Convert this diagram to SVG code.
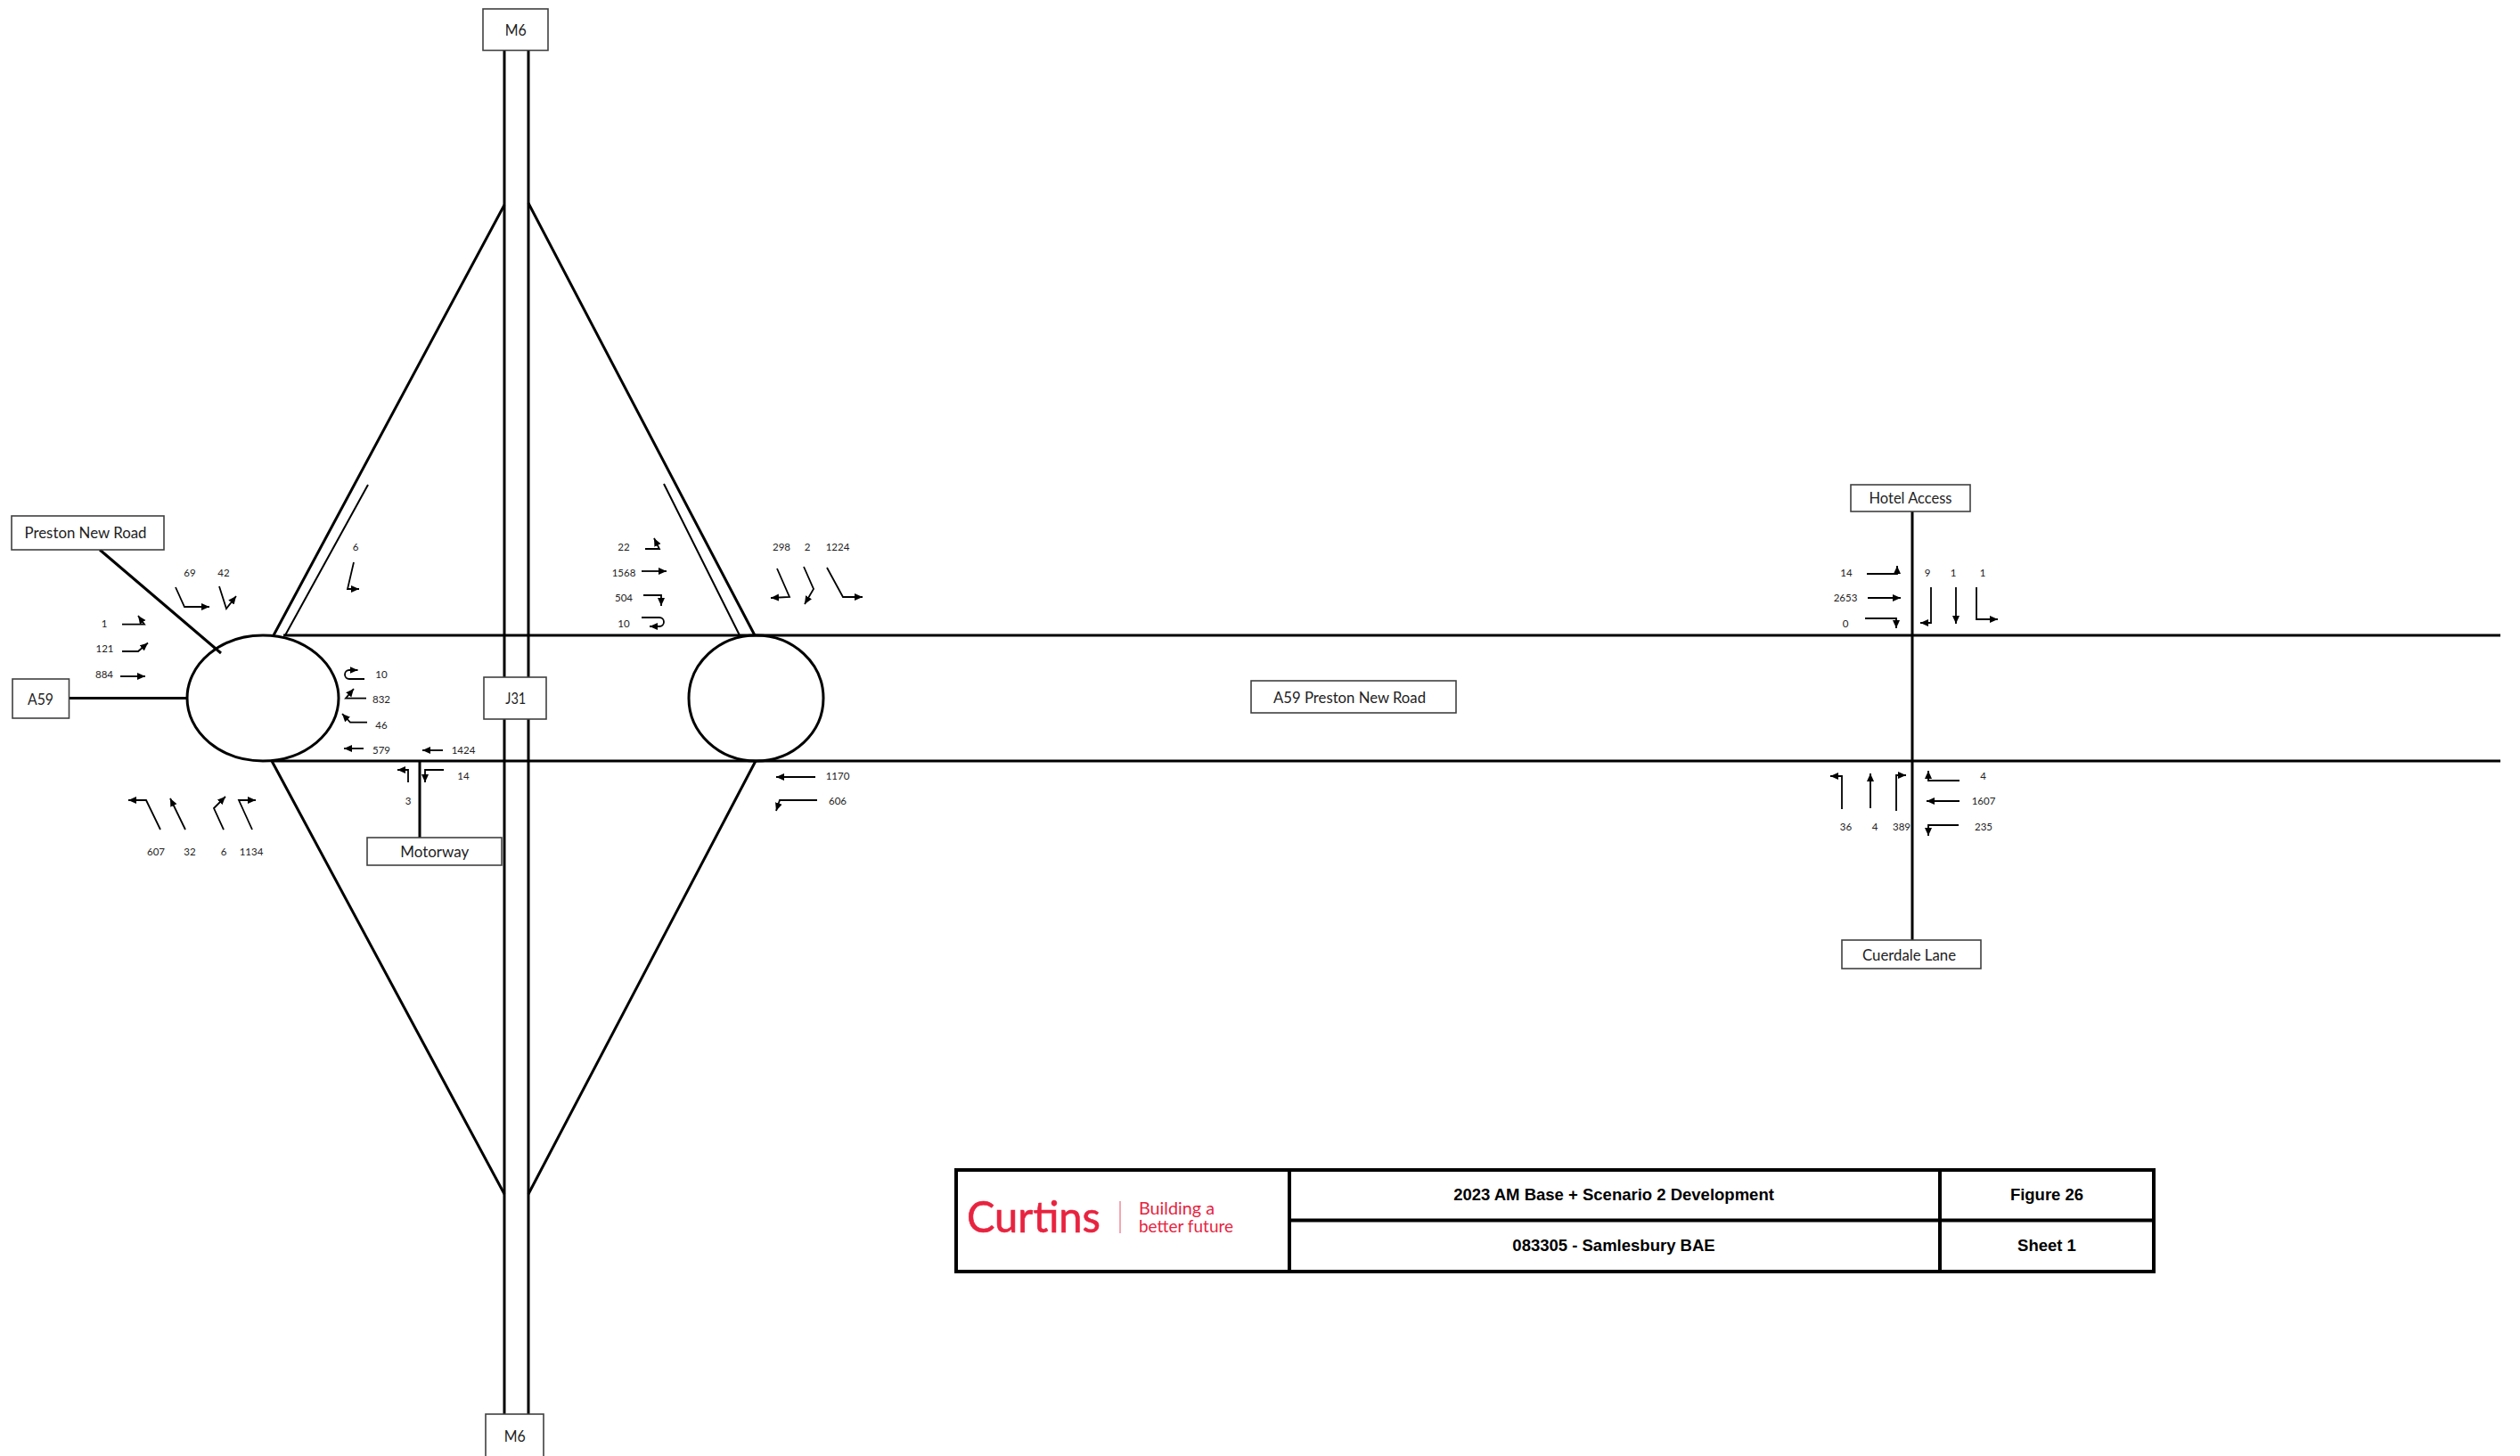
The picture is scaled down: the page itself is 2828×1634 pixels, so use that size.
<svg xmlns="http://www.w3.org/2000/svg" width="2828" height="1634" viewBox="0 0 2828 1634">
<style>
.road{fill:none;stroke:#000;stroke-width:3}
.thin{fill:none;stroke:#000;stroke-width:2}
.rb{fill:none;stroke:#000;stroke-width:3}
.mv{fill:none;stroke:#000;stroke-width:1.8;marker-end:url(#ah)}
.box{fill:#fff;stroke:#404040;stroke-width:1.6}
.lb{font-family:Lato,"Liberation Sans",sans-serif;font-size:18px;fill:#222;text-anchor:middle;dominant-baseline:central}
.n{font-family:Lato,"Liberation Sans",sans-serif;font-size:11.5px;fill:#222;text-anchor:middle;dominant-baseline:central;transform:translateY(-1px)}
.tb{fill:#fff;stroke:#000;stroke-width:4}
.tt{font-family:"Liberation Sans",Arial,sans-serif;font-size:18.5px;font-weight:bold;fill:#000;text-anchor:middle;dominant-baseline:central}
.logo{font-family:Lato,"Liberation Sans",sans-serif;fill:#e8233f}
</style>
<defs>
<marker id="ah" markerUnits="userSpaceOnUse" markerWidth="10" markerHeight="9" refX="9" refY="4.500" orient="auto"><path d="M0 0.500L9 4.500L0 8.500Z" fill="#000"/></marker>
</defs>
<rect width="2828" height="1634" fill="#fff"/>
<g id="connectors">
<g id="roads">
<path class="road" d="M566 50V1590M593 50V1590"/>
<path class="road" d="M318 713H2806M305 854H2806"/>
<path class="road" d="M307 713L566 230M593 228L847 713M305 854L566 1340M848 854L593 1340"/>
<path class="thin" d="M320 713L413 544M745 543L830 713"/>
<path class="road" d="M112 617L248 733M77 783.5H210M471 854V940M2146 574V1057"/>
</g>
<g id="movements">
<path class="mv" d="M137 700.7H162L155 691"/>
<path class="mv" d="M137 731H155L166 721.5"/>
<path class="mv" d="M135 759H163"/>
<path class="mv" d="M197 659L207 681H235"/>
<path class="mv" d="M246 658L254 683L265 669"/>
<path class="mv" d="M397 631L390 661H403"/>
<path class="mv" d="M409 762H392A5 5 0 0 1 392 752H401.5"/>
<path class="mv" d="M411 783.7H388L397 773"/>
<path class="mv" d="M412 810.7H393L384 801"/>
<path class="mv" d="M408 840H386"/>
<path class="mv" d="M497 842H474"/>
<path class="mv" d="M498 864H477V878"/>
<path class="mv" d="M458 878V864H446"/>
<path class="mv" d="M180 931L164 898H144"/>
<path class="mv" d="M208 931L191 896"/>
<path class="mv" d="M251 931L240 907L253 894"/>
<path class="mv" d="M283 931L268 898H287"/>
<path class="mv" d="M724 616H740L734 604"/>
<path class="mv" d="M720 641H748"/>
<path class="mv" d="M722 668H742V680"/>
<path class="mv" d="M720 693H740A5 5 0 0 1 740 703H729"/>
<path class="mv" d="M872 638L886 670L865 671"/>
<path class="mv" d="M902 636L913 661L903 678"/>
<path class="mv" d="M928 637L946 670H968"/>
<path class="mv" d="M915 872H871"/>
<path class="mv" d="M917 898H875L871 910"/>
<path class="mv" d="M2095 644H2129V635"/>
<path class="mv" d="M2096 671H2133"/>
<path class="mv" d="M2093 694H2128V705"/>
<path class="mv" d="M2167 659V699H2155"/>
<path class="mv" d="M2195 659V700"/>
<path class="mv" d="M2218 659V695H2242"/>
<path class="mv" d="M2067 908V871H2054"/>
<path class="mv" d="M2099 907V868"/>
<path class="mv" d="M2128 910V870H2139"/>
<path class="mv" d="M2199 876H2164V865"/>
<path class="mv" d="M2199 899H2162"/>
<path class="mv" d="M2198 926H2164V938"/>
</g>
</g>
<g id="rb-west"><ellipse class="rb" cx="295" cy="783.5" rx="85" ry="70.5"/></g>
<g id="rb-east"><ellipse class="rb" cx="848.5" cy="783.5" rx="75.5" ry="70.5"/></g>
<g id="n-m6-top"><rect class="box" x="542" y="10" width="73" height="46.5"/><text class="lb" x="578.700" y="33" textLength="24" lengthAdjust="spacingAndGlyphs">M6</text></g>
<g id="n-m6-bottom"><rect class="box" x="545" y="1587" width="65" height="60"/><text class="lb" x="577.800" y="1611" textLength="24" lengthAdjust="spacingAndGlyphs">M6</text></g>
<g id="n-j31"><rect class="box" x="543" y="760" width="70" height="47"/><text class="lb" x="578.800" y="783" textLength="23" lengthAdjust="spacingAndGlyphs">J31</text></g>
<g id="n-preston"><rect class="box" x="13" y="579" width="171" height="38"/><text class="lb" x="96" y="597" textLength="137" lengthAdjust="spacingAndGlyphs">Preston New Road</text></g>
<g id="n-a59"><rect class="box" x="14" y="762" width="63.500" height="44"/><text class="lb" x="45.500" y="784" textLength="29" lengthAdjust="spacingAndGlyphs">A59</text></g>
<g id="n-motorway"><rect class="box" x="412" y="940" width="151" height="31"/><text class="lb" x="487.700" y="955" textLength="77" lengthAdjust="spacingAndGlyphs">Motorway</text></g>
<g id="n-a59-pnr"><rect class="box" x="1404" y="764" width="230" height="36"/><text class="lb" x="1514.500" y="782" textLength="171" lengthAdjust="spacingAndGlyphs">A59 Preston New Road</text></g>
<g id="n-hotel"><rect class="box" x="2077" y="544" width="134" height="30"/><text class="lb" x="2144" y="558" textLength="93" lengthAdjust="spacingAndGlyphs">Hotel Access</text></g>
<g id="n-cuerdale"><rect class="box" x="2067" y="1055" width="156" height="32"/><text class="lb" x="2142.500" y="1071" textLength="105" lengthAdjust="spacingAndGlyphs">Cuerdale Lane</text></g>
<g id="flows">
<text class="n" x="117" y="700">1</text><text class="n" x="117.500" y="728">121</text><text class="n" x="117" y="757">884</text>
<text class="n" x="213" y="643">69</text><text class="n" x="251" y="643">42</text><text class="n" x="399" y="614">6</text>
<text class="n" x="428" y="757">10</text><text class="n" x="428" y="785">832</text><text class="n" x="428" y="814">46</text><text class="n" x="428" y="842">579</text>
<text class="n" x="520" y="842">1424</text><text class="n" x="520" y="871">14</text><text class="n" x="458" y="899">3</text>
<text class="n" x="175" y="956">607</text><text class="n" x="213" y="956">32</text><text class="n" x="251" y="956">6</text><text class="n" x="282" y="956">1134</text>
<text class="n" x="700" y="614">22</text><text class="n" x="700" y="643">1568</text><text class="n" x="700" y="671">504</text><text class="n" x="700" y="700">10</text>
<text class="n" x="877" y="614">298</text><text class="n" x="906" y="614">2</text><text class="n" x="940" y="614">1224</text>
<text class="n" x="940" y="871">1170</text><text class="n" x="940" y="899">606</text>
<text class="n" x="2072" y="643">14</text><text class="n" x="2071" y="671">2653</text><text class="n" x="2071" y="700">0</text>
<text class="n" x="2163" y="643">9</text><text class="n" x="2192" y="643">1</text><text class="n" x="2225" y="643">1</text>
<text class="n" x="2071.500" y="928">36</text><text class="n" x="2104" y="928">4</text><text class="n" x="2134" y="928">389</text>
<text class="n" x="2225.500" y="871">4</text><text class="n" x="2226" y="899">1607</text><text class="n" x="2226" y="928">235</text>
</g>
<g id="titleblock">
<rect class="tb" x="1073" y="1313" width="1344" height="114"/>
<path class="tb" d="M1447 1313V1427M2177 1313V1427M1447 1369.500H2417"/>
<text class="logo" x="1085" y="1382.500" font-size="49" textLength="150" lengthAdjust="spacingAndGlyphs" stroke="#e8233f" stroke-width="0.600">Curtins</text>
<path d="M1257 1348V1384" stroke="#f08a9a" stroke-width="1.500" fill="none"/>
<text class="logo" x="1278" y="1363" font-size="20" textLength="85" lengthAdjust="spacingAndGlyphs">Building a</text>
<text class="logo" x="1278" y="1383" font-size="20" textLength="106" lengthAdjust="spacingAndGlyphs">better future</text>
<text class="tt" x="1811" y="1340">2023 AM Base + Scenario 2 Development</text>
<text class="tt" x="1811" y="1397">083305 - Samlesbury BAE</text>
<text class="tt" x="2297" y="1340">Figure 26</text>
<text class="tt" x="2297" y="1397">Sheet 1</text>
</g>
</svg>
